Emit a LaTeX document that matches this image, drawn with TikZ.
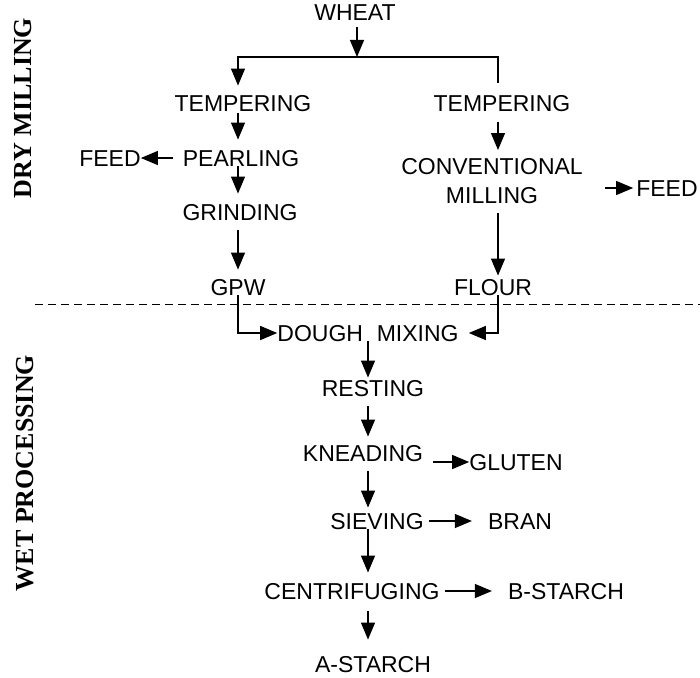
\documentclass[tikz,border=0pt]{standalone}
\usepackage{fontspec}
\setmainfont{Liberation Serif}
\setsansfont{Liberation Sans}
\usetikzlibrary{arrows.meta}

\tikzset{
  txt/.style={font=\sffamily\fontsize{23}{29}\selectfont, inner sep=0pt},
  stage/.style={txt, text height=16.5pt, text depth=0pt},
  flow/.style={-{Triangle[length=17pt, width=14pt]}, line width=1.3pt},
  pipe/.style={line width=1.3pt},
  side/.style={font=\bfseries\fontsize{26}{30}\selectfont, rotate=90, inner sep=0pt}
}

\begin{document}
\begin{tikzpicture}[x=1pt, y=-1pt]

\useasboundingbox (0, 0) rectangle (700, 677);

\coordinate (colL) at (238, 0);
\coordinate (colR) at (498, 0);
\coordinate (colC) at (368, 0);
\coordinate (split) at (357, 57);

\node[side] (dry) at (23, 108) {DRY MILLING};
\node[side] (wet) at (25, 473) {WET PROCESSING};

\node[stage] (wheat) at (355, 12) {WHEAT};

\node[stage] (templ) at (243, 103) {TEMPERING};
\node[stage] (pearl) at (241, 158) {PEARLING};
\node[stage] (feedl) at (110, 158) {FEED};
\node[stage] (grind) at (240, 212) {GRINDING};
\node[stage] (gpw) at (238, 287) {GPW};

\node[stage] (tempr) at (502, 103) {TEMPERING};
\node[txt, align=center, anchor=north] (conv) at (492, 158) {CONVENTIONAL\\MILLING};
\node[stage] (feedr) at (667, 188) {FEED};
\node[stage] (flour) at (493, 287) {FLOUR};

\node[stage] (dough) at (368, 333) {DOUGH\hspace{0.6em}MIXING};
\node[stage] (rest) at (373, 388) {RESTING};
\node[stage] (knead) at (363, 453) {KNEADING};
\node[stage] (gluten) at (516, 462) {GLUTEN};
\node[stage] (sieve) at (377, 521) {SIEVING};
\node[stage] (bran) at (520, 521) {BRAN};
\node[stage] (centri) at (352, 591) {CENTRIFUGING};
\node[stage] (bstarch) at (566, 591) {B-STARCH};
\node[stage] (astarch) at (373, 664) {A-STARCH};

% dry side
\draw[flow] ([yshift=-7pt]wheat.south -| split) -- (split);
\draw[flow] (split) -| ([yshift=9pt]templ.north -| colL);
\draw[pipe] (split) -| ([yshift=12pt]tempr.north -| colR);

\draw[flow] ([yshift=-2pt]templ.south -| colL) -- ([yshift=10pt]pearl.north -| colL);
\draw[flow] ([xshift=-10pt]pearl.west) -- (feedl.east);
\draw[flow] (pearl.south -| colL) -- ([yshift=10pt]grind.north -| colL);
\draw[flow] ([yshift=-10pt]grind.south -| colL) -- ([yshift=9pt]gpw.north -| colL);

\draw[flow] ([yshift=-11pt]tempr.south -| colR) -- ([yshift=8pt]conv.north -| colR);
\draw[flow] ([xshift=22pt]conv.east |- feedr.west) -- ([xshift=-3pt]feedr.west);
\draw[flow] ([yshift=-9pt]conv.south -| colR) -- ([yshift=3pt]flour.north -| colR);

\draw[dash pattern=on 8pt off 5pt, line width=1pt] (35, 304) -- (700, 304);

% wet side
\draw[flow] (gpw.south -| colL) |- (dough.west);
\draw[flow] (flour.south -| colR) |- ([xshift=10pt]dough.east);

\draw[flow] (dough.south -| colC) -- ([yshift=2pt]rest.north -| colC);
\draw[flow] ([yshift=-10pt]rest.south -| colC) -- ([yshift=8pt]knead.north -| colC);
\draw[flow] ([xshift=10pt]knead.east |- gluten.west) -- (gluten.west);
\draw[flow] ([yshift=-10pt]knead.south -| colC) -- ([yshift=5pt]sieve.north -| colC);
\draw[flow] ([xshift=5pt]sieve.east) -- ([xshift=-16pt]bran.west);
\draw[flow] (sieve.south -| colC) -- ([yshift=10pt]centri.north -| colC);
\draw[flow] ([xshift=5pt]centri.east) -- ([xshift=-16pt]bstarch.west);
\draw[flow] ([yshift=-12pt]centri.south -| colC) -- ([yshift=16pt]astarch.north -| colC);

\end{tikzpicture}
\end{document}
